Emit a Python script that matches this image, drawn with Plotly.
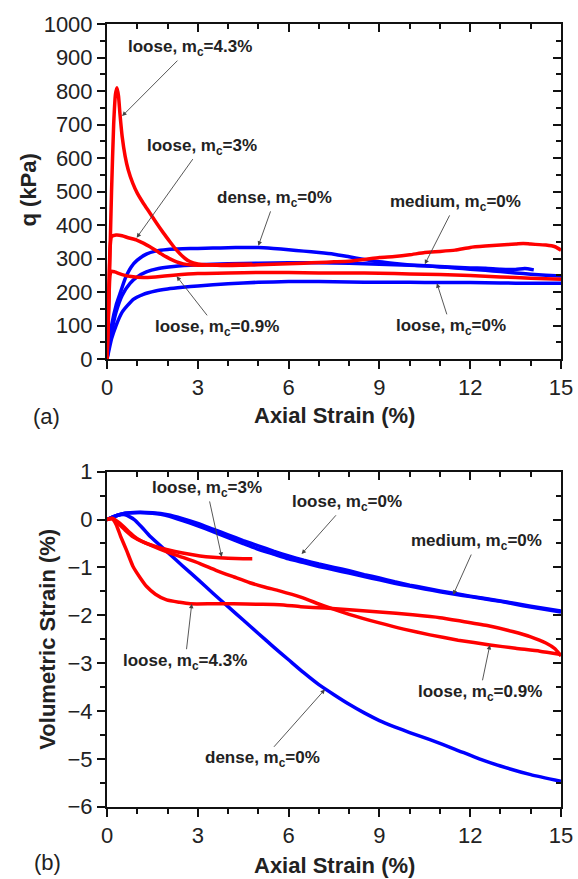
import plotly.graph_objects as go

# ---------------- Panel (a): deviator stress q vs axial strain ----------------
q_red43_x = [0, 0.08, 0.15, 0.22, 0.28, 0.33, 0.38, 0.43, 0.5, 0.6, 0.7, 0.85, 1.0, 1.2, 1.4, 1.64, 1.85, 2.08, 2.25, 2.41, 2.58, 2.74, 3.0, 3.29, 3.6, 4.0, 4.5, 5.0, 5.5, 6.0, 6.5, 7.0, 7.5, 8.0, 8.5, 9.0, 9.5, 10.0, 10.5, 11.0, 11.5, 12.0, 12.5, 13.0, 13.5, 13.75, 14.0, 14.5, 14.8, 15.0]
q_red43_y = [0, 250, 500, 700, 790, 810, 785, 730, 665, 605, 565, 525, 495, 465, 438, 405, 378, 350, 330, 314, 300, 291, 284, 281, 280, 279, 280, 281, 283, 284, 286, 288, 290, 292, 297, 303, 306, 311, 318, 321, 325, 333, 337, 340, 343, 345, 343, 340, 335, 325]

q_red3_x = [0, 0.05, 0.1, 0.15, 0.3, 0.5, 0.7, 0.98, 1.2, 1.42, 1.65, 1.86, 2.08, 2.3, 2.52, 2.74, 3.0, 3.5, 4.0, 4.5, 4.8]
q_red3_y = [0, 150, 330, 365, 370, 368, 362, 355, 346, 335, 322, 310, 299, 290, 284, 281, 280, 281, 282, 283, 283]

q_red09_x = [0, 0.05, 0.1, 0.15, 0.25, 0.5, 0.8, 1.2, 1.6, 2.2, 3.0, 4.0, 5.0, 6.0, 7.0, 8.0, 9.0, 10.0, 11.0, 12.0, 13.0, 14.0, 15.0]
q_red09_y = [0, 130, 250, 262, 260, 252, 246, 243, 245, 250, 255, 257, 258, 258, 257, 257, 256, 254, 252, 249, 245, 241, 238]

q_dense_x = [0, 0.05, 0.15, 0.3, 0.43, 0.6, 0.8, 1.0, 1.3, 1.6, 2.0, 2.5, 3.0, 3.5, 4.0, 4.5, 5.0, 5.5, 6.0, 6.5, 7.0, 7.5, 8.0, 8.5, 9.0, 9.5, 10.0, 10.5, 11.0, 11.5, 12.0, 12.5, 13.0, 13.5, 14.0, 14.5, 15.0]
q_dense_y = [0, 40, 100, 160, 195, 240, 275, 295, 313, 322, 327, 329, 330, 331, 332, 333, 333, 330, 326, 322, 318, 313, 305, 297, 290, 285, 281, 278, 275, 272, 268, 265, 261, 257, 253, 250, 248]

q_medium_x = [0, 0.05, 0.15, 0.3, 0.5, 0.76, 1.0, 1.3, 1.7, 2.2, 3.0, 4.0, 5.0, 6.0, 7.0, 8.0, 9.0, 10.0, 11.0, 12.0, 12.5, 13.0, 13.5, 13.8, 14.1]
q_medium_y = [0, 30, 80, 140, 190, 226, 245, 260, 270, 276, 281, 284, 286, 287, 287, 286, 283, 280, 276, 272, 271, 268, 267, 270, 266]

q_loose_x = [0, 0.05, 0.15, 0.3, 0.5, 0.87, 1.2, 1.6, 2.0, 2.5, 3.0, 4.0, 5.0, 6.0, 7.0, 8.0, 9.0, 10.0, 11.0, 12.0, 13.0, 14.0, 15.0]
q_loose_y = [0, 20, 60, 100, 140, 178, 193, 203, 209, 214, 218, 225, 229, 231, 231, 230, 229, 229, 228, 228, 227, 226, 226]

# ---------------- Panel (b): volumetric strain vs axial strain ----------------
v_dense_x = [0, 0.3, 0.6, 0.9, 1.15, 1.42, 2.0, 2.5, 3.0, 3.5, 4.0, 4.5, 5.0, 5.5, 6.0, 6.5, 7.0, 7.5, 8.0, 8.5, 9.0, 9.5, 10.0, 10.67, 11.5, 12.3, 13.0, 14.0, 15.0]
v_dense_y = [0, 0.08, 0.1, 0.0, -0.16, -0.35, -0.68, -0.97, -1.25, -1.54, -1.82, -2.1, -2.38, -2.66, -2.93, -3.2, -3.45, -3.66, -3.86, -4.04, -4.2, -4.33, -4.45, -4.6, -4.8, -5.0, -5.15, -5.33, -5.47]

v_medium_x = [0, 0.3, 0.6, 1.0, 1.5, 2.0, 2.5, 3.0, 3.5, 4.0, 4.5, 5.0, 5.5, 6.0, 6.5, 7.0, 7.5, 8.0, 8.5, 9.0, 9.5, 10.0, 10.5, 11.0, 11.5, 12.0, 12.5, 13.0, 13.5, 14.0, 14.5, 15.0]
v_medium_y = [0, 0.08, 0.13, 0.15, 0.13, 0.08, -0.02, -0.13, -0.25, -0.38, -0.5, -0.62, -0.72, -0.82, -0.9, -0.98, -1.05, -1.12, -1.19, -1.26, -1.33, -1.39, -1.45, -1.51, -1.56, -1.61, -1.66, -1.71, -1.77, -1.83, -1.88, -1.93]

v_loose_x = [0, 0.3, 0.6, 1.0, 1.5, 2.0, 2.5, 3.0, 3.5, 4.0, 4.5, 5.0, 5.5, 6.0, 6.5, 7.0, 7.5, 8.0, 8.5, 9.0, 9.5, 10.0, 10.5, 11.0, 12.0, 13.0, 14.0, 15.0]
v_loose_y = [0, 0.08, 0.13, 0.15, 0.14, 0.1, 0.02, -0.08, -0.2, -0.32, -0.44, -0.55, -0.66, -0.76, -0.85, -0.93, -1.0, -1.07, -1.15, -1.22, -1.3, -1.37, -1.43, -1.49, -1.6, -1.7, -1.81, -1.91]

v_red3_x = [0, 0.2, 0.4, 0.6, 0.86, 1.2, 1.6, 2.0, 2.5, 3.07, 3.5, 4.0, 4.5, 4.8]
v_red3_y = [0, 0.02, -0.1, -0.22, -0.36, -0.47, -0.56, -0.63, -0.7, -0.76, -0.79, -0.81, -0.82, -0.82]

v_red09_x = [0, 0.2, 0.43, 0.8, 1.0, 1.42, 2.0, 2.5, 3.07, 3.6, 4.2, 4.72, 5.2, 5.7, 6.4, 7.15, 8.0, 9.0, 9.8, 10.67, 11.6, 12.65, 13.5, 14.3, 15.0]
v_red09_y = [0, 0.02, -0.08, -0.3, -0.4, -0.53, -0.68, -0.79, -0.92, -1.06, -1.2, -1.32, -1.41, -1.49, -1.62, -1.8, -1.98, -2.16, -2.29, -2.41, -2.52, -2.62, -2.69, -2.75, -2.82]

v_red43_x = [0, 0.15, 0.3, 0.45, 0.65, 0.86, 1.1, 1.31, 1.6, 1.97, 2.4, 2.75, 3.5, 4.17, 5.0, 5.7, 6.4, 7.2, 7.9, 9.0, 10.1, 11.0, 11.77, 12.6, 13.4, 14.0, 14.5, 14.8, 15.0]
v_red43_y = [0, 0.03, -0.1, -0.35, -0.65, -0.98, -1.22, -1.4, -1.56, -1.68, -1.73, -1.76, -1.76, -1.76, -1.77, -1.78, -1.82, -1.85, -1.88, -1.93, -1.99, -2.05, -2.13, -2.22, -2.34, -2.45, -2.58, -2.7, -2.85]

# ---------------- annotations: (label, tip x, tip y, text x, text y) ----------------
ann_a = [
    ("loose, m<sub>c</sub>=4.3%", 0.5, 725, 2.74, 928),
    ("loose, m<sub>c</sub>=3%", 0.98, 362, 3.13, 634),
    ("dense, m<sub>c</sub>=0%", 5.0, 338, 5.55, 478),
    ("medium, m<sub>c</sub>=0%", 10.5, 283, 11.53, 466),
    ("loose, m<sub>c</sub>=0.9%", 2.3, 247, 3.63, 93),
    ("loose, m<sub>c</sub>=0%", 10.9, 226, 11.36, 96),
]
ann_b = [
    ("loose, m<sub>c</sub>=3%", 3.79, -0.78, 3.30, 0.64),
    ("loose, m<sub>c</sub>=0%", 6.43, -0.72, 7.93, 0.35),
    ("medium, m<sub>c</sub>=0%", 11.44, -1.57, 12.22, -0.47),
    ("loose, m<sub>c</sub>=4.3%", 2.8, -1.76, 2.58, -2.97),
    ("dense, m<sub>c</sub>=0%", 7.2, -3.55, 5.15, -5.01),
    ("loose, m<sub>c</sub>=0.9%", 12.65, -2.62, 12.32, -3.62),
]

RED = "#ff0000"
BLUE = "#0000ff"
LW = 3.5
FONT = "Liberation Sans, Arial, sans-serif"

fig = go.Figure()

def add(x, y, color, xa, ya):
    fig.add_trace(go.Scatter(x=x, y=y, mode="lines", xaxis=xa, yaxis=ya,
                             line=dict(color=color, width=LW, shape="spline", smoothing=0.5),
                             showlegend=False, hoverinfo="skip"))

# panel a
add(q_loose_x, q_loose_y, BLUE, "x", "y")
add(q_medium_x, q_medium_y, BLUE, "x", "y")
add(q_dense_x, q_dense_y, BLUE, "x", "y")
add(q_red09_x, q_red09_y, RED, "x", "y")
add(q_red3_x, q_red3_y, RED, "x", "y")
add(q_red43_x, q_red43_y, RED, "x", "y")
# panel b
add(v_dense_x, v_dense_y, BLUE, "x2", "y2")
add(v_loose_x, v_loose_y, BLUE, "x2", "y2")
add(v_medium_x, v_medium_y, BLUE, "x2", "y2")
add(v_red3_x, v_red3_y, RED, "x2", "y2")
add(v_red09_x, v_red09_y, RED, "x2", "y2")
add(v_red43_x, v_red43_y, RED, "x2", "y2")

XD = [107 / 578, 561 / 578]
YD_A = [1 - 359 / 879, 1 - 24 / 879]
YD_B = [1 - 806.7 / 879, 1 - 471.7 / 879]

tickfont = dict(family=FONT, size=22, color="#222")
common = dict(showgrid=False, zeroline=False, showline=True, linecolor="#111",
              linewidth=2, tickcolor="#111", tickwidth=1.5, ticklen=8,
              tickfont=tickfont, fixedrange=True, automargin=False)

xcommon = dict(common, range=[0, 15], tickmode="array", tickvals=[0, 3, 6, 9, 12, 15],
               ticks="outside",
               minor=dict(ticks="outside", ticklen=5, dtick=1, tickcolor="#111", tickwidth=1.5))

fig.update_layout(
    width=578, height=879,
    margin=dict(l=0, r=0, t=0, b=0, autoexpand=False),
    paper_bgcolor="white", plot_bgcolor="white",
    font=dict(family=FONT, color="#222"),
    xaxis=dict(xcommon, domain=XD, anchor="y"),
    yaxis=dict(common, domain=YD_A, anchor="x", range=[0, 1000], dtick=100, ticks="outside",
               minor=dict(ticks="outside", ticklen=5, dtick=50, tickcolor="#111", tickwidth=1.5)),
    xaxis2=dict(xcommon, domain=XD, anchor="y2"),
    yaxis2=dict(common, domain=YD_B, anchor="x2", range=[-6, 1], dtick=1, ticks="outside",
                minor=dict(ticks="outside", ticklen=5, dtick=0.5, tickcolor="#111", tickwidth=1.5)),
    # mirrored axes with inward ticks (top / right)
    xaxis3=dict(common, overlaying="x", side="top", anchor="y", range=[0, 15], dtick=3,
                ticks="inside", showticklabels=False,
                minor=dict(ticks="inside", ticklen=5, dtick=1, tickcolor="#111", tickwidth=1.5)),
    yaxis3=dict(common, overlaying="y", side="right", anchor="x", range=[0, 1000], dtick=100,
                ticks="inside", showticklabels=False,
                minor=dict(ticks="inside", ticklen=5, dtick=50, tickcolor="#111", tickwidth=1.5)),
    xaxis4=dict(common, overlaying="x2", side="top", anchor="y2", range=[0, 15], dtick=3,
                ticks="inside", showticklabels=False,
                minor=dict(ticks="inside", ticklen=5, dtick=1, tickcolor="#111", tickwidth=1.5)),
    yaxis4=dict(common, overlaying="y2", side="right", anchor="x2", range=[-6, 1], dtick=1,
                ticks="inside", showticklabels=False,
                minor=dict(ticks="inside", ticklen=5, dtick=0.5, tickcolor="#111", tickwidth=1.5)),
)

# invisible traces so overlay axes are drawn
fig.add_trace(go.Scatter(x=[0], y=[0], xaxis="x3", yaxis="y3", mode="markers",
                         marker=dict(opacity=0), showlegend=False, hoverinfo="skip"))
fig.add_trace(go.Scatter(x=[0], y=[0], xaxis="x4", yaxis="y4", mode="markers",
                         marker=dict(opacity=0), showlegend=False, hoverinfo="skip"))

annots = []
for lab, tx, ty, ax, ay in ann_a:
    annots.append(dict(x=tx, y=ty, xref="x", yref="y", ax=ax, ay=ay, axref="x", ayref="y",
                       text="<b>" + lab + "</b>", showarrow=True, arrowhead=2, arrowsize=1,
                       arrowwidth=0.9, arrowcolor="#444",
                       font=dict(family=FONT, size=17, color="#222")))
for lab, tx, ty, ax, ay in ann_b:
    annots.append(dict(x=tx, y=ty, xref="x2", yref="y2", ax=ax, ay=ay, axref="x2", ayref="y2",
                       text="<b>" + lab + "</b>", showarrow=True, arrowhead=2, arrowsize=1,
                       arrowwidth=0.9, arrowcolor="#444",
                       font=dict(family=FONT, size=17, color="#222")))

title_font = dict(family=FONT, size=22, color="#222")
annots += [
    dict(text="<b>q (kPa)</b>", x=27.5 / 578, y=1 - 190 / 879, xref="paper", yref="paper",
         textangle=-90, showarrow=False, font=title_font, xanchor="center", yanchor="middle"),
    dict(text="<b>Axial Strain (%)</b>", x=334 / 578, y=1 - 415 / 879, xref="paper", yref="paper",
         showarrow=False, font=title_font, xanchor="center", yanchor="middle"),
    dict(text="(a)", x=46 / 578, y=1 - 417 / 879, xref="paper", yref="paper",
         showarrow=False, font=title_font, xanchor="center", yanchor="middle"),
    dict(text="<b>Volumetric Strain (%)</b>", x=46.7 / 578, y=1 - 639 / 879, xref="paper", yref="paper",
         textangle=-90, showarrow=False, font=title_font, xanchor="center", yanchor="middle"),
    dict(text="<b>Axial Strain (%)</b>", x=334 / 578, y=1 - 865 / 879, xref="paper", yref="paper",
         showarrow=False, font=title_font, xanchor="center", yanchor="middle"),
    dict(text="(b)", x=47 / 578, y=1 - 862 / 879, xref="paper", yref="paper",
         showarrow=False, font=title_font, xanchor="center", yanchor="middle"),
]
fig.update_layout(annotations=annots)

fig.write_html("out.html", config={"displayModeBar": False})
